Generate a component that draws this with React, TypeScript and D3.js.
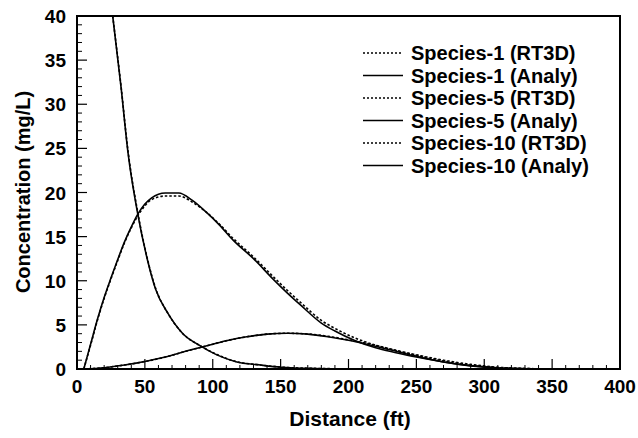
import React from "react";
import * as d3 from "d3";

// ---- data (Distance ft, Concentration mg/L) ----
const s1Dist = [26.3, 32.4, 37.5, 44.7, 52, 58, 67, 78, 90, 103, 117, 135, 150, 175, 200, 250];
const s1Analy = [40, 32, 24.6, 17.6, 12.3, 9.0, 6.3, 4.0, 2.7, 1.6, 0.83, 0.45, 0.2, 0.06, 0.02, 0];
const s1RT3D = [40, 32.1, 24.8, 17.8, 12.4, 9.1, 6.3, 4.0, 2.7, 1.65, 0.85, 0.46, 0.22, 0.07, 0.02, 0];

const s5Dist = [5, 10, 15, 20, 25, 30, 35, 40, 45, 50, 55, 65, 75, 85, 95, 105, 115, 130, 145, 155, 165, 180, 190, 205, 220, 235, 250, 270, 290, 310, 330, 350];
const s5Analy = [0, 2.8, 5.6, 8.1, 10.3, 12.4, 14.4, 16.1, 17.6, 18.7, 19.4, 19.95, 19.95, 19.1, 17.8, 16.3, 14.6, 12.5, 10.1, 8.6, 7.2, 5.2, 4.3, 3.2, 2.4, 1.85, 1.35, 0.8, 0.38, 0.12, 0.03, 0];
const s5RT3D = [0, 2.7, 5.5, 8.0, 10.2, 12.3, 14.3, 16.0, 17.4, 18.5, 19.2, 19.6, 19.6, 18.9, 17.8, 16.4, 14.8, 12.7, 10.4, 8.9, 7.5, 5.5, 4.6, 3.5, 2.7, 2.1, 1.6, 1.0, 0.52, 0.2, 0.06, 0];

const s10Dist = [5, 20, 35, 50, 65, 80, 95, 110, 125, 140, 155, 170, 185, 200, 215, 230, 250, 270, 290, 310, 330, 350];
const s10Analy = [0, 0.15, 0.45, 0.85, 1.35, 2.0, 2.6, 3.2, 3.65, 3.95, 4.05, 3.95, 3.65, 3.25, 2.75, 2.2, 1.45, 0.8, 0.35, 0.12, 0.03, 0];
const s10RT3D = [0, 0.15, 0.45, 0.85, 1.35, 2.0, 2.6, 3.2, 3.65, 3.95, 4.05, 3.97, 3.7, 3.3, 2.85, 2.3, 1.55, 0.9, 0.42, 0.16, 0.05, 0];

const xTicks = [0, 50, 100, 150, 200, 250, 300, 350, 400];
const yTicks = [0, 5, 10, 15, 20, 25, 30, 35, 40];

const legendLabels = [
  "Species-1 (RT3D)",
  "Species-1 (Analy)",
  "Species-5 (RT3D)",
  "Species-5 (Analy)",
  "Species-10 (RT3D)",
  "Species-10 (Analy)",
];

const FONT = "'Liberation Sans', Arial, sans-serif";

export default function App() {
  const W = 638, H = 438;
  const L = 77, R = 620, T = 16, B = 369;
  const x = d3.scaleLinear().domain([0, 400]).range([L, R]);
  const y = d3.scaleLinear().domain([0, 40]).range([B, T]);
  const line = d3
    .line<[number, number]>()
    .x((d) => x(d[0]))
    .y((d) => y(d[1]))
    .curve(d3.curveMonotoneX);
  const zip = (a: number[], b: number[]) => a.map((v, i) => [v, b[i]] as [number, number]);

  const series = [
    { d: zip(s1Dist, s1RT3D), dash: true },
    { d: zip(s1Dist, s1Analy), dash: false },
    { d: zip(s5Dist, s5RT3D), dash: true },
    { d: zip(s5Dist, s5Analy), dash: false },
    { d: zip(s10Dist, s10RT3D), dash: true },
    { d: zip(s10Dist, s10Analy), dash: false },
  ];

  const xMinor = d3.range(0, 401, 10).filter((v) => v % 50 !== 0);
  const yMinor = d3.range(0, 41, 1).filter((v) => v % 5 !== 0);

  return (
    <svg width={W} height={H} style={{ position: "absolute", left: 0, top: 0, background: "#fff" }}>
      <defs>
        <clipPath id="plot">
          <rect x={L} y={T} width={R - L} height={B - T} />
        </clipPath>
      </defs>
      <rect x={0} y={0} width={W} height={H} fill="#fff" />
      {/* ticks */}
      {xTicks.map((t) => (
        <line key={"xt" + t} x1={x(t)} x2={x(t)} y1={B} y2={B - 10} stroke="#000" strokeWidth={1.2} />
      ))}
      {xMinor.map((t) => (
        <line key={"xm" + t} x1={x(t)} x2={x(t)} y1={B} y2={B - 4} stroke="#000" strokeWidth={1} />
      ))}
      {yTicks.map((t) => (
        <line key={"yt" + t} x1={L} x2={L + 10} y1={y(t)} y2={y(t)} stroke="#000" strokeWidth={1.2} />
      ))}
      {yMinor.map((t) => (
        <line key={"ym" + t} x1={L} x2={L + 5} y1={y(t)} y2={y(t)} stroke="#000" strokeWidth={1} />
      ))}
      {/* curves */}
      <g clipPath="url(#plot)">
        {series.map((s, i) => (
          <path
            key={i}
            d={line(s.d) || ""}
            fill="none"
            stroke="#000"
            strokeWidth={1.6}
            strokeDasharray={s.dash ? "2.5 2" : undefined}
          />
        ))}
      </g>
      {/* frame */}
      <rect x={L} y={T} width={R - L} height={B - T} fill="none" stroke="#000" strokeWidth={2} />
      {/* tick labels */}
      {xTicks.map((t) => (
        <text key={"xl" + t} x={x(t)} y={393} textAnchor="middle" fontFamily={FONT} fontWeight="bold" fontSize={19}>
          {t}
        </text>
      ))}
      {yTicks.map((t) => (
        <text key={"yl" + t} x={66} y={y(t) + 7} textAnchor="end" fontFamily={FONT} fontWeight="bold" fontSize={19}>
          {t}
        </text>
      ))}
      {/* axis titles */}
      <text x={350} y={426} textAnchor="middle" fontFamily={FONT} fontWeight="bold" fontSize={21}>
        Distance (ft)
      </text>
      <text
        transform={`translate(30, 192) rotate(-90)`}
        textAnchor="middle"
        fontFamily={FONT}
        fontWeight="bold"
        fontSize={20}
      >
        Concentration (mg/L)
      </text>
      {/* legend */}
      {legendLabels.map((lab, i) => {
        const ly = 53 + i * 22.5;
        return (
          <g key={lab}>
            <line
              x1={363}
              x2={403}
              y1={ly}
              y2={ly}
              stroke="#000"
              strokeWidth={i % 2 === 0 ? 1.4 : 1.6}
              strokeDasharray={i % 2 === 0 ? "2 2" : undefined}
            />
            <text x={411} y={ly + 7} fontFamily={FONT} fontWeight="bold" fontSize={20}>
              {lab}
            </text>
          </g>
        );
      })}
    </svg>
  );
}
